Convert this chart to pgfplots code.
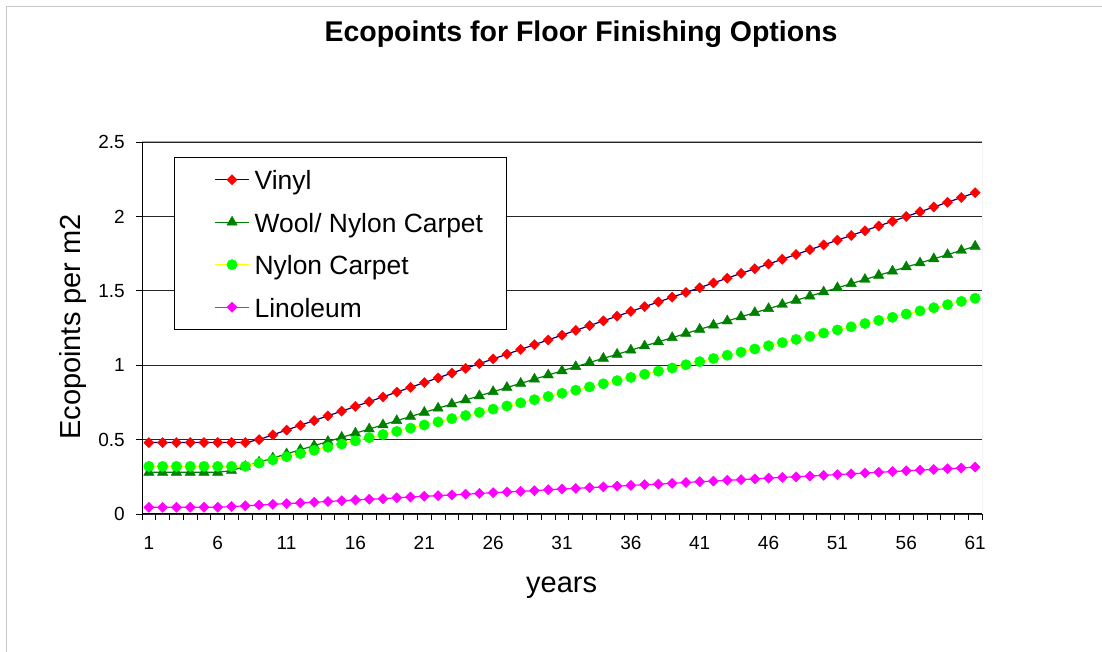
\documentclass[border=0pt]{standalone}
\usepackage{pgfplots}
\pgfplotsset{compat=1.18}
\usepackage{pgfplotstable}
\usepackage{fontspec}
\setmainfont{Liberation Sans}

\definecolor{xlnavy}{RGB}{0,0,128}
\definecolor{xlred}{RGB}{255,0,0}
\definecolor{xlgreen}{RGB}{0,128,0}
\definecolor{xllime}{RGB}{0,255,0}
\definecolor{xlyellow}{RGB}{255,255,0}
\definecolor{xlmagenta}{RGB}{255,0,255}

% years, then ecopoints per m2 for each floor finish
\pgfplotstableread{
x vinyl wool nylon lino
1 0.480 0.280 0.320 0.045
2 0.480 0.280 0.320 0.045
3 0.480 0.280 0.320 0.045
4 0.480 0.280 0.320 0.045
5 0.480 0.280 0.320 0.045
6 0.480 0.280 0.320 0.045
7 0.480 0.292 0.320 0.050
8 0.480 0.320 0.321 0.055
9 0.500 0.348 0.342 0.060
10 0.532 0.376 0.364 0.065
11 0.564 0.404 0.385 0.070
12 0.596 0.432 0.406 0.074
13 0.628 0.459 0.428 0.079
14 0.660 0.487 0.449 0.084
15 0.691 0.515 0.470 0.089
16 0.723 0.543 0.492 0.094
17 0.755 0.571 0.513 0.099
18 0.787 0.599 0.534 0.103
19 0.819 0.627 0.555 0.109
20 0.851 0.655 0.577 0.114
21 0.883 0.683 0.598 0.119
22 0.915 0.711 0.619 0.123
23 0.947 0.739 0.641 0.128
24 0.979 0.766 0.662 0.133
25 1.010 0.794 0.683 0.138
26 1.042 0.822 0.705 0.143
27 1.074 0.850 0.726 0.148
28 1.106 0.878 0.747 0.152
29 1.138 0.906 0.768 0.157
30 1.170 0.934 0.790 0.163
31 1.202 0.962 0.811 0.168
32 1.234 0.990 0.832 0.172
33 1.266 1.018 0.854 0.177
34 1.298 1.046 0.875 0.182
35 1.329 1.073 0.896 0.187
36 1.361 1.101 0.918 0.192
37 1.393 1.129 0.939 0.197
38 1.425 1.157 0.960 0.201
39 1.457 1.185 0.981 0.206
40 1.489 1.213 1.003 0.212
41 1.521 1.241 1.024 0.217
42 1.553 1.269 1.045 0.221
43 1.585 1.297 1.067 0.226
44 1.617 1.325 1.088 0.231
45 1.648 1.353 1.109 0.236
46 1.680 1.380 1.131 0.241
47 1.712 1.408 1.152 0.246
48 1.744 1.436 1.173 0.250
49 1.776 1.464 1.194 0.255
50 1.808 1.492 1.216 0.260
51 1.840 1.520 1.237 0.265
52 1.872 1.548 1.258 0.270
53 1.904 1.576 1.280 0.275
54 1.936 1.604 1.301 0.280
55 1.967 1.632 1.322 0.285
56 1.999 1.660 1.344 0.290
57 2.031 1.687 1.365 0.295
58 2.063 1.715 1.386 0.299
59 2.095 1.743 1.407 0.304
60 2.127 1.771 1.429 0.309
61 2.159 1.799 1.450 0.315
}\floordata

\begin{document}
\begin{tikzpicture}
\useasboundingbox (0pt,0pt) rectangle (1102pt,652pt);
\draw[gray!45, line width=1pt] (6.5pt,0pt) -- (6.5pt,645.5pt) -- (1102pt,645.5pt);
\begin{axis}[
    at={(142pt,138pt)}, anchor=south west,
    scale only axis, width=840pt, height=372pt,
    xmin=0.5, xmax=61.5, ymin=0, ymax=2.5,
    axis x line*=bottom, axis y line*=left,
    axis line style={-, black, line width=1pt},
    xtick={1,6,...,61},
    minor xtick={0.5,1.5,...,61.5},
    ytick={0,0.5,...,2.5},
    major x tick style={draw=none},
    tick align=outside,
    major tick length=6pt, minor tick length=6pt,
    tick style={black, line width=0.8pt},
    ymajorgrids,
    major grid style={black!85, line width=0.9pt},
    /pgf/number format/assume math mode=true,
    ticklabel style={font=\fontsize{19}{22}\selectfont},
    yticklabel style={anchor=east, inner sep=0pt, xshift=-11pt},
    xticklabel style={anchor=base, inner sep=0pt, yshift=-30pt},
    title={Ecopoints for Floor Finishing Options},
    title style={at={(axis description cs:0.5226,1.2527)}, anchor=base,
        font=\fontsize{28.5}{34}\selectfont\bfseries},
    xlabel={years},
    every axis x label/.style={at={(axis description cs:0.4996,-0.2097)}, anchor=base,
        font=\fontsize{29}{34}\selectfont},
    ylabel={Ecopoints per m2},
    every axis y label/.style={at={(axis description cs:-0.0738,0.5027)}, rotate=90, anchor=base,
        font=\fontsize{29}{34}\selectfont},
    legend cell align=left,
    legend image code/.code={
        \path (-17pt,0pt);
        \draw[mark repeat=2, mark phase=2, #1] plot coordinates {(0pt,0pt) (17pt,0pt) (34pt,0pt)};
    },
    legend style={at={(axis description cs:0.0381,0.9597)}, anchor=north west,
        draw=black, line width=0.9pt, fill=white,
        font=\fontsize{26.4}{30}\selectfont,
        inner xsep=23pt, inner ysep=1pt, row sep=0pt,
        nodes={inner sep=0pt, text height=31.5pt, text depth=11pt},
        /tikz/every odd column/.append style={column sep=5pt}},
]
\addplot[xlnavy, line width=1.2pt, mark=square*, mark size=3.6pt,
    mark options={solid, fill=xlred, draw=xlred, rotate=45, line width=0.4pt}]
    table[x=x, y=vinyl] {\floordata};
\addlegendentry{Vinyl}
\addplot[xlgreen, line width=1.2pt, mark=triangle*, mark size=6pt,
    mark options={solid, fill=xlgreen, draw=xlgreen, line width=0.4pt}]
    table[x=x, y=wool] {\floordata};
\addlegendentry{Wool/ Nylon Carpet}
\addplot[xlyellow, line width=1.2pt, mark=*, mark size=5.2pt,
    mark options={solid, fill=xllime, draw=xllime, line width=0.4pt}]
    table[x=x, y=nylon] {\floordata};
\addlegendentry{Nylon Carpet}
\addplot[xlmagenta, line width=1.2pt, mark=square*, mark size=3.6pt,
    mark options={solid, fill=xlmagenta, draw=xlmagenta, rotate=45, line width=0.4pt}]
    table[x=x, y=lino] {\floordata};
\addlegendentry{Linoleum}
\draw[gray!70, line width=1pt] (rel axis cs:0,1) -- (rel axis cs:1,1) -- (rel axis cs:1,0);
\end{axis}
\end{tikzpicture}
\end{document}
